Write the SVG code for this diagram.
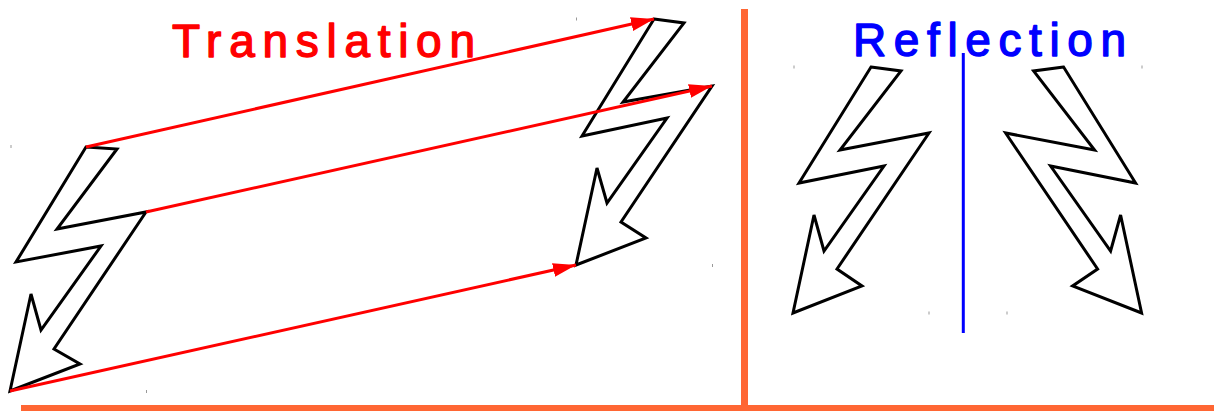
<svg xmlns="http://www.w3.org/2000/svg" xmlns:xlink="http://www.w3.org/1999/xlink" width="1214" height="411" viewBox="0 0 1214 411">
<style>
.bolt{fill:none;stroke:#000;stroke-width:3;stroke-linejoin:miter}
.arrow{stroke:#f00;stroke-width:3;fill:none}
.axis{stroke:#ff6633;stroke-width:7;fill:none}
.title{font-family:"Liberation Sans",Arial,sans-serif;font-size:46px;stroke-width:1.4;stroke-linejoin:round}
.tick{fill:#999}
</style>
<defs>
<marker id="ah" markerUnits="userSpaceOnUse" markerWidth="26" markerHeight="16" refX="23" refY="7" orient="auto">
<path d="M0,0 L23,7 L0,14 z" fill="#f00"/>
</marker>
<polygon id="boltShape" points="871,67 901,71 840,150 929,133 837,269 862,286 793,313 814,215 824,251 884,166 799,183"/>
</defs>
<rect width="1214" height="411" fill="#fff"/>
<g id="dividers">
<line class="axis" x1="744.5" y1="9" x2="744.5" y2="405"/>
<line class="axis" x1="21" y1="408.5" x2="1214" y2="408.5"/>
</g>
<g id="ticks">
<rect class="tick" x="10.5" y="145" width="1" height="3"/>
<rect class="tick" x="576" y="17.5" width="1" height="3"/>
<rect class="tick" x="712" y="264" width="1" height="3"/>
<rect class="tick" x="146" y="390" width="1" height="3"/>
<rect class="tick" x="793.5" y="65.5" width="1" height="3"/>
<rect class="tick" x="1141.5" y="65.5" width="1" height="3"/>
<rect class="tick" x="928.5" y="311.5" width="1" height="3"/>
<rect class="tick" x="1006.5" y="311.5" width="1" height="3"/>
</g>
<g id="title-translation">
<text class="title" x="172" y="57" fill="#f00" stroke="#f00" textLength="303" lengthAdjust="spacing">Translation</text>
</g>
<g id="title-reflection">
<text class="title" x="853" y="56" fill="#00f" stroke="#00f" textLength="273" lengthAdjust="spacing">Reflection</text>
</g>
<g id="bolt-original">
<polygon class="bolt" points="86,147 117,149 57,229 146,212 54,349 80,364 10,391 31,294 41,330 101,246 16,262"/>
</g>
<g id="bolt-translated">
<polygon class="bolt" points="654,19 684,23 623,102 712,86 621,222 646,238 576,265 597,168 607,203 667,118 582,136"/>
</g>
<g id="connectors">
<line class="arrow" x1="86" y1="147" x2="654" y2="19" marker-end="url(#ah)"/>
<line class="arrow" x1="146" y1="212" x2="712" y2="86" marker-end="url(#ah)"/>
<line class="arrow" x1="10" y1="391" x2="576" y2="265" marker-end="url(#ah)"/>
</g>
<g id="mirror-line">
<line x1="963.3" y1="53" x2="963.3" y2="333" stroke="#00f" stroke-width="3"/>
</g>
<g id="bolt-reflect-left">
<use xlink:href="#boltShape" class="bolt"/>
</g>
<g id="bolt-reflect-right">
<use xlink:href="#boltShape" class="bolt" transform="matrix(-1 0 0 1 1934.6 0)"/>
</g>
</svg>
